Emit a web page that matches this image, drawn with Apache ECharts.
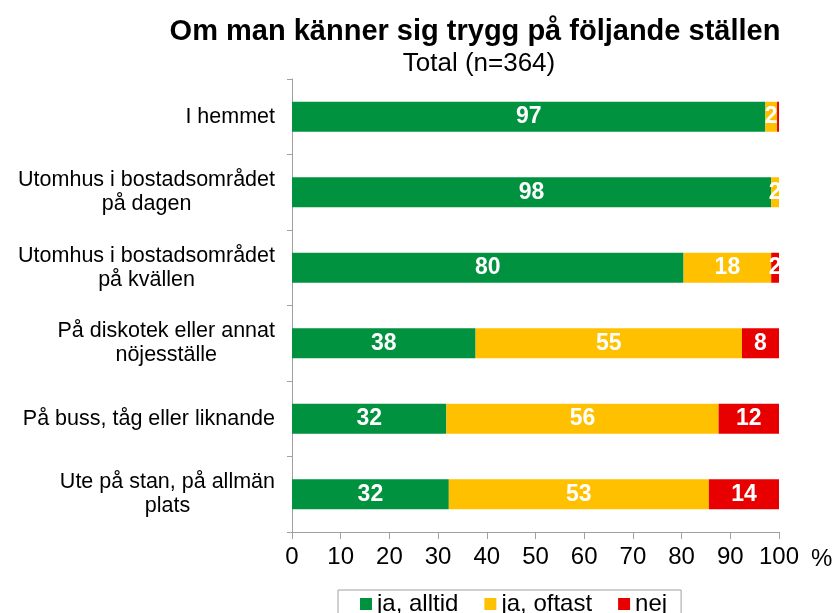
<!DOCTYPE html>
<html>
<head>
<meta charset="utf-8">
<script src="https://cdn.jsdelivr.net/npm/echarts@6/dist/echarts.min.js"></script>
<style>html,body{margin:0;padding:0;background:#fff}#c{width:834px;height:613px}</style>
</head>
<body>
<div id="c"></div>
<script>
const categories = [
  'I hemmet',
  'Utomhus i bostadsområdet\npå dagen',
  'Utomhus i bostadsområdet\npå kvällen',
  'På diskotek eller annat\nnöjesställe',
  'På buss, tåg eller liknande',
  'Ute på stan, på allmän\nplats'
];
const seriesNames = ['ja, alltid', 'ja, oftast', 'nej'];
const jaAlltid = [97.2, 98.4, 80.4, 37.7, 31.7, 32.2];
const jaOftast = [2.4, 1.6, 18.0, 54.7, 55.9, 53.4];
const nej = [0.4, 0.0, 1.6, 7.6, 12.4, 14.4];
const xTicks = [0, 10, 20, 30, 40, 50, 60, 70, 80, 90, 100];
const colors = ['#00923F', '#FFC000', '#E80000'];

const FONT = "'Liberation Sans', Arial, sans-serif";
const chart = echarts.init(document.getElementById('c'), null, {renderer: 'canvas'});

function mk(name, data, color) {
  return {
    name: name,
    type: 'bar',
    stack: 'total',
    data: data,
    barWidth: 30,
    itemStyle: {color: color},
    label: {
      show: true,
      position: 'inside',
      color: '#fff',
      fontFamily: FONT,
      fontSize: 23,
      fontWeight: 'bold',
      formatter: p => { const r = Math.round(p.value); return r >= 1 ? String(r) : ''; }
    }
  };
}

chart.setOption({
  animation: false,
  textStyle: {fontFamily: FONT},
  title: [
    {text: 'Om man känner sig trygg på följande ställen', left: 470, textAlign: 'center', top: 12,
     textStyle: {fontFamily: FONT, fontSize: 29, fontWeight: 'bold', color: '#000'}},
    {text: 'Total (n=364)', left: 474, textAlign: 'center', top: 46,
     textStyle: {fontFamily: FONT, fontSize: 26, fontWeight: 'normal', color: '#000'}}
  ],
  grid: {left: 292, right: 55, top: 79, bottom: 81, containLabel: false},
  xAxis: {
    type: 'value', min: 0, max: 100, interval: 10,
    axisLine: {show: true, lineStyle: {color: '#a0a0a0', width: 1}},
    axisTick: {show: true, length: 7, lineStyle: {color: '#a0a0a0'}},
    splitLine: {show: false},
    axisLabel: {
      color: '#000', fontFamily: FONT, fontSize: 24, margin: 13,
      formatter: v => xTicks.indexOf(v) >= 0 ? String(v) : ''
    }
  },
  yAxis: {
    type: 'category', inverse: true, data: categories,
    axisLine: {show: true, lineStyle: {color: '#a0a0a0', width: 1}},
    axisTick: {show: true, length: 5, lineStyle: {color: '#a0a0a0'}},
    axisLabel: {
      margin: 17, align: 'right', color: '#000',
      formatter: v => v.split('\n').map(l => '{c|' + l + '}').join('\n'),
      rich: {c: {align: 'center', fontFamily: FONT, fontSize: 21.5, lineHeight: 24, color: '#000'}}
    }
  },
  legend: {
    data: seriesNames,
    left: 338, top: 590,
    itemWidth: 12, itemHeight: 12, itemGap: 26,
    icon: 'rect',
    borderColor: '#a0a0a0', borderWidth: 1,
    padding: [2, 14, 4, 22],
    textStyle: {fontFamily: FONT, fontSize: 24, color: '#000', padding: [0, 0, 0, 0]}
  },
  graphic: [
    {type: 'text', left: 811, top: 547, style: {text: '%', fontFamily: FONT, fontSize: 24, fill: '#000'}}
  ],
  series: [
    mk(seriesNames[0], jaAlltid, colors[0]),
    mk(seriesNames[1], jaOftast, colors[1]),
    mk(seriesNames[2], nej, colors[2])
  ]
});
</script>
</body>
</html>
